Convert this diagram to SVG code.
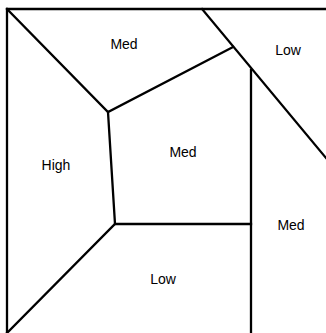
<svg xmlns="http://www.w3.org/2000/svg" width="326" height="333" viewBox="0 0 326 333">
<style>
.l{stroke:#000;stroke-width:2.3;fill:none;stroke-linecap:square;stroke-linejoin:miter}
text{font-family:"Liberation Sans",Arial,sans-serif;font-size:14px;fill:#000;text-anchor:middle;dominant-baseline:central}
</style>
<rect width="326" height="333" fill="#fff"/>
<g id="edges">
<path class="l" d="M7,333 V9 H326"/>
<path class="l" d="M7,9 L108,112 L233,47"/>
<path class="l" d="M202,9 L326,158"/>
<path class="l" d="M251,70 V333"/>
<path class="l" d="M108,112 L115,224 H251"/>
<path class="l" d="M115,224 L7,333"/>
</g>
<g id="r-med-top"><text x="124" y="44">Med</text></g>
<g id="r-low-top"><text x="288" y="50">Low</text></g>
<g id="r-high"><text x="56" y="165">High</text></g>
<g id="r-med-center"><text x="183" y="152">Med</text></g>
<g id="r-med-right"><text x="291" y="225">Med</text></g>
<g id="r-low-bottom"><text x="163" y="279">Low</text></g>
</svg>
